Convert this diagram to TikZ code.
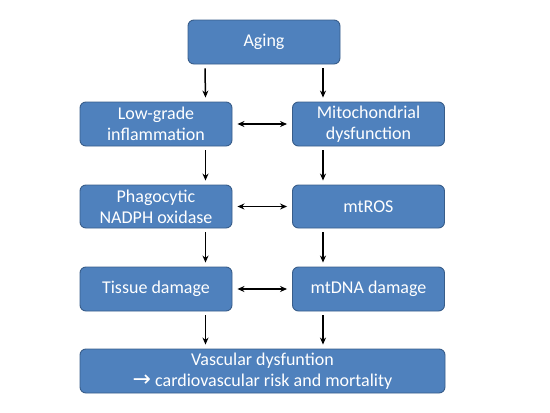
\documentclass[tikz,border=0pt]{standalone}
\usepackage{fontspec}
\setmainfont{Carlito}
\usetikzlibrary{arrows.meta}
\begin{document}
\begin{tikzpicture}[x=1pt,y=-1pt,
  box/.style={draw=boxborder,fill=boxfill,rounded corners=6pt,line width=0.9pt,text=white,align=center,font=\fontsize{18}{21}\selectfont,inner sep=0pt},
  arr/.style={-{Stealth[length=7pt,width=6pt]},line width=1.5pt},
  darr/.style={{Stealth[length=7pt,width=6pt]}-{Stealth[length=7pt,width=6pt]},line width=1.5pt}]
\definecolor{boxfill}{HTML}{4F81BD}
\definecolor{boxborder}{HTML}{385D8A}
\useasboundingbox (0,0) rectangle (550,413);
\node[box,minimum width=152pt,minimum height=44pt] (aging) at (264,42) {Aging};
\node[box,minimum width=152pt,minimum height=44pt] (lgi) at (156,124) {Low-grade\\inflammation};
\node[box,minimum width=152pt,minimum height=44pt] (mito) at (368.5,124) {Mitochondrial\\dysfunction};
\node[box,minimum width=152pt,minimum height=43pt] (nadph) at (156,206.5) {Phagocytic\\NADPH oxidase};
\node[box,minimum width=152pt,minimum height=43pt] (ros) at (368.5,206.5) {mtROS};
\node[box,minimum width=152pt,minimum height=44pt] (tissue) at (156,289) {Tissue damage};
\node[box,minimum width=152pt,minimum height=44pt] (mtdna) at (368.5,289) {mtDNA damage};
\node[box,minimum width=365pt,minimum height=44pt] (vasc) at (262.5,371) {Vascular dysfuntion\\{\fontspec{DejaVu Sans}\fontsize{22}{21}\selectfont →} cardiovascular risk and mortality};
% vertical arrows
\draw[arr] ([xshift=-59pt,yshift=-4pt]aging.south) -- ([xshift=49.5pt,yshift=4pt]lgi.north);
\draw[arr] ([xshift=59pt,yshift=-4pt]aging.south) -- ([xshift=-45.5pt,yshift=4pt]mito.north);
\draw[arr] ([xshift=49.5pt,yshift=-4pt]lgi.south) -- ([xshift=49.5pt,yshift=4pt]nadph.north);
\draw[arr] ([xshift=-45.5pt,yshift=-4pt]mito.south) -- ([xshift=-45.5pt,yshift=4pt]ros.north);
\draw[arr] ([xshift=49.5pt,yshift=-4pt]nadph.south) -- ([xshift=49.5pt,yshift=4pt]tissue.north);
\draw[arr] ([xshift=-45.5pt,yshift=-4pt]ros.south) -- ([xshift=-45.5pt,yshift=4pt]mtdna.north);
\draw[arr] ([xshift=49.5pt,yshift=-4pt]tissue.south) -- ([xshift=-57pt,yshift=4pt]vasc.north);
\draw[arr] ([xshift=-45.5pt,yshift=-4pt]mtdna.south) -- ([xshift=60.5pt,yshift=4pt]vasc.north);
% horizontal double arrows
\draw[darr] ([xshift=5pt]lgi.east) -- ([xshift=-5pt]mito.west);
\draw[darr] ([xshift=5pt]nadph.east) -- ([xshift=-5pt]ros.west);
\draw[darr] ([xshift=5pt]tissue.east) -- ([xshift=-5pt]mtdna.west);
\end{tikzpicture}
\end{document}
